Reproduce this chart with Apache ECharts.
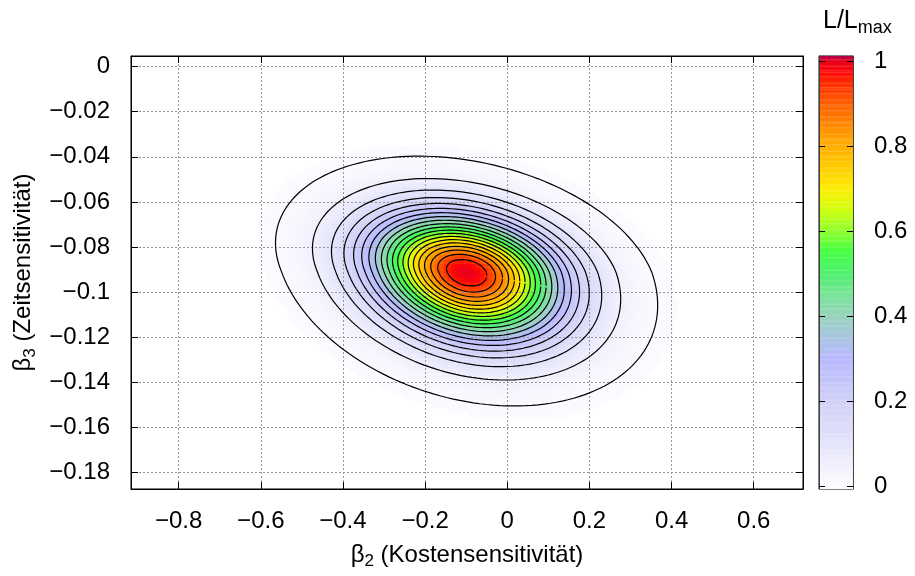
<!DOCTYPE html>
<html>
<head>
<meta charset="utf-8">
<script src="https://cdn.jsdelivr.net/npm/echarts@6/dist/echarts.min.js"></script>
<style>html,body{margin:0;padding:0;background:#fff}#c{width:915px;height:576px}</style>
</head>
<body>
<div id="c"></div>
<script>
// ---- values ----
const xTicks = [-0.8, -0.6, -0.4, -0.2, 0, 0.2, 0.4, 0.6];
const yTicks = [0, -0.02, -0.04, -0.06, -0.08, -0.1, -0.12, -0.14, -0.16, -0.18];
const cbTicks = [0, 0.2, 0.4, 0.6, 0.8, 1];
const xRange = [-0.916, 0.72];
const yRange = [-0.1873, 0.0047];
const cbRange = [-0.007, 1.012];
// likelihood surface (peak position, spreads, tilt)
const peakBeta = [-0.099, -0.091];
const spreadBeta2 = [0.1533];
const spreadBeta3 = [0.0169, 0.0196];   // above / below the peak
const correlation = [-0.25];
const contourLevels = [0.01, 0.05, 0.1, 0.15, 0.2, 0.25, 0.3, 0.35, 0.4, 0.45, 0.5,
                       0.55, 0.6, 0.65, 0.7, 0.75, 0.8, 0.85, 0.9, 0.95];
// colour-bar stops [value, colour]
const paletteStops = [[0, '#fcfcff'], [0.1, '#e4e4fb'], [0.2, '#d0d0f8'], [0.3, '#b8b8ff'],
  [0.35, '#a8c4e0'], [0.4, '#98d4bc'], [0.45, '#78e498'], [0.5, '#50f070'], [0.55, '#44ff44'],
  [0.6, '#90ff30'], [0.65, '#d0ff10'], [0.7, '#ffec00'], [0.75, '#ffcc00'], [0.8, '#ffae00'],
  [0.85, '#ff8800'], [0.9, '#ff6000'], [0.95, '#ff2800'], [0.975, '#ff0808'], [1.0, '#e8001c'],
  [1.012, '#b0004e']];

// ---- palette list for the visual map (evenly spaced up to the top of the colour bar) ----
function hex2rgb(h) { return [1, 3, 5].map(i => parseInt(h.substr(i, 2), 16)); }
const vmMax = paletteStops[paletteStops.length - 1][0];
const paletteList = [];
for (let i = 0; i <= 400; i++) {
  const v = vmMax * i / 400;
  let k = 0;
  while (k < paletteStops.length - 2 && paletteStops[k + 1][0] < v) k++;
  const [v0, c0] = paletteStops[k], [v1, c1] = paletteStops[k + 1];
  const t = Math.max(0, Math.min(1, (v - v0) / (v1 - v0)));
  const a = hex2rgb(c0), b = hex2rgb(c1);
  paletteList.push('rgb(' + a.map((x, j) => Math.round(x + (b[j] - x) * t)).join(',') + ')');
}

// ---- surface model ----
const rho = correlation[0], sr = Math.sqrt(1 - rho * rho);
function likelihood(x, y) {
  const u = (x - peakBeta[0]) / spreadBeta2[0];
  const dy = y - peakBeta[1];
  const v = dy / (dy > 0 ? spreadBeta3[0] : spreadBeta3[1]);
  const q = (u * u - 2 * rho * u * v + v * v) / (1 - rho * rho);
  return Math.exp(-q / 2);
}
const cellW = 0.01, cellH = 0.002;
const cells = [];
for (let x = xRange[0] + cellW / 2; x < xRange[1]; x += cellW) {
  for (let y = yRange[0] + cellH / 2; y < yRange[1]; y += cellH) {
    const L = likelihood(x, y);
    if (L > 0.004) cells.push([x, y, L]);
  }
}
function contour(level) {
  const R = Math.sqrt(-2 * Math.log(level));
  const pts = [];
  for (let i = 0; i <= 180; i++) {
    const t = i / 180 * Math.PI * 2;
    const u = R * Math.cos(t);
    const v = R * (rho * Math.cos(t) + sr * Math.sin(t));
    pts.push([peakBeta[0] + u * spreadBeta2[0],
              peakBeta[1] + v * (v > 0 ? spreadBeta3[0] : spreadBeta3[1])]);
  }
  return pts;
}
const cbStep = 0.002;
const cbCells = [];
for (let v = cbRange[0]; v < cbRange[1]; v += cbStep) {
  cbCells.push([v, Math.min(v + cbStep * 1.5, cbRange[1]), Math.max(0, Math.min(vmMax, v + cbStep / 2))]);
}

// ---- chart ----
const FONT = '"Liberation Sans", Arial, Helvetica, sans-serif';
const FS = 24, FSUB = 17;
const fmt = v => String(Math.round(v * 1000) / 1000).replace('-', '\u2212');
const G = {left: 131, top: 56, width: 672, height: 433};
const CB = {left: 819, top: 56, width: 34, height: 433};
const lbl = {color: '#000', fontSize: FS, fontFamily: FONT};
const tick = (vals, len) => ({show: true, inside: true, length: len, customValues: vals, lineStyle: {color: '#000', width: 1}});
const gridLine = {show: true, lineStyle: {color: '#999', width: 1, type: [2, 2]}};
const richName = {b: {fontSize: FS, fontFamily: FONT, color: '#000'},
                  s: {fontSize: FSUB, fontFamily: FONT, color: '#000', padding: [13, 0, 0, 0]}};

const series = [{
  type: 'custom', xAxisIndex: 0, yAxisIndex: 0, z: 1, clip: true, silent: true,
  dimensions: ['x', 'y', 'L'], encode: {x: 0, y: 1},
  data: cells,
  renderItem: function (params, api) {
    const x = api.value(0), y = api.value(1);
    const p0 = api.coord([x - cellW / 2, y + cellH / 2]);
    const p1 = api.coord([x + cellW / 2, y - cellH / 2]);
    return {type: 'rect', shape: {x: p0[0], y: p0[1], width: p1[0] - p0[0] + 0.6, height: p1[1] - p0[1] + 0.6},
            style: {fill: api.visual('color')}};
  }
}, {
  type: 'custom', xAxisIndex: 2, yAxisIndex: 2, z: 1, silent: true,
  dimensions: ['a', 'b', 'L'], encode: {y: 0},
  data: cbCells,
  renderItem: function (params, api) {
    const p0 = api.coord([0, api.value(1)]);
    const p1 = api.coord([1, api.value(0)]);
    return {type: 'rect', shape: {x: p0[0], y: p0[1], width: p1[0] - p0[0], height: p1[1] - p0[1]},
            style: {fill: api.visual('color')}};
  }
}];
contourLevels.forEach(lv => {
  series.push({type: 'line', xAxisIndex: 0, yAxisIndex: 0, z: 5, silent: true, symbol: 'none',
    data: contour(lv), lineStyle: {color: '#000', width: 1.2}});
});

const chart = echarts.init(document.getElementById('c'), null, {renderer: 'canvas'});
chart.setOption({
  animation: false,
  backgroundColor: '#fff',
  title: {
    text: '{a|L/L}{b|max}', left: 823, top: 5, padding: 0,
    textStyle: {fontWeight: 'normal', rich: {
      a: {fontSize: 25, fontFamily: FONT, color: '#000', fontWeight: 'normal'},
      b: {fontSize: 18, fontFamily: FONT, color: '#000', fontWeight: 'normal', padding: [14, 0, 0, 0]}}}
  },
  grid: [
    Object.assign({show: true, borderColor: '#000', borderWidth: 1, backgroundColor: 'transparent'}, G),
    Object.assign({show: true, borderColor: '#000', borderWidth: 1, backgroundColor: 'transparent'}, CB)
  ],
  visualMap: {
    type: 'continuous', show: false, min: 0, max: vmMax, dimension: 2, seriesIndex: [0, 1],
    inRange: {color: paletteList}
  },
  xAxis: [{
    gridIndex: 0, type: 'value', min: xRange[0], max: xRange[1], position: 'bottom', z: 3,
    axisLine: {show: true, onZero: false, lineStyle: {color: '#000'}},
    axisTick: tick(xTicks, 7),
    axisLabel: Object.assign({customValues: xTicks, formatter: fmt, margin: 20}, lbl),
    splitLine: gridLine,
    name: '{b|\u03b2}{s|2}{b| (Kostensensitivit\u00e4t)}', nameLocation: 'middle', nameGap: 51,
    nameTextStyle: {rich: richName}
  }, {
    gridIndex: 0, type: 'value', min: xRange[0], max: xRange[1], position: 'top', z: 3,
    axisLine: {show: true, onZero: false, lineStyle: {color: '#000'}},
    axisTick: tick(xTicks, 7), axisLabel: {show: false}, splitLine: {show: false}
  }, {
    gridIndex: 1, type: 'value', min: 0, max: 1, show: false
  }],
  yAxis: [{
    gridIndex: 0, type: 'value', min: yRange[0], max: yRange[1], position: 'left', z: 3,
    axisLine: {show: true, onZero: false, lineStyle: {color: '#000'}},
    axisTick: tick(yTicks, 7),
    axisLabel: Object.assign({customValues: yTicks, formatter: fmt, margin: 21}, lbl),
    splitLine: gridLine,
    name: '{b|\u03b2}{s|3}{b| (Zeitsensitivit\u00e4t)}', nameLocation: 'middle', nameGap: 86, nameRotate: 90,
    nameTextStyle: {rich: richName}
  }, {
    gridIndex: 0, type: 'value', min: yRange[0], max: yRange[1], position: 'right', z: 3,
    axisLine: {show: true, onZero: false, lineStyle: {color: '#000'}},
    axisTick: tick(yTicks, 7), axisLabel: {show: false}, splitLine: {show: false}
  }, {
    gridIndex: 1, type: 'value', min: cbRange[0], max: cbRange[1], position: 'right', z: 3,
    axisLine: {show: true, onZero: false, lineStyle: {color: '#444'}},
    axisTick: tick(cbTicks, 6),
    axisLabel: Object.assign({customValues: cbTicks, formatter: fmt, margin: 21}, lbl),
    splitLine: {show: false}
  }, {
    gridIndex: 1, type: 'value', min: cbRange[0], max: cbRange[1], position: 'left', z: 3,
    axisLine: {show: true, onZero: false, lineStyle: {color: '#444'}},
    axisTick: tick(cbTicks, 6), axisLabel: {show: false}, splitLine: {show: false}
  }],
  series: series
});
</script>
</body>
</html>
